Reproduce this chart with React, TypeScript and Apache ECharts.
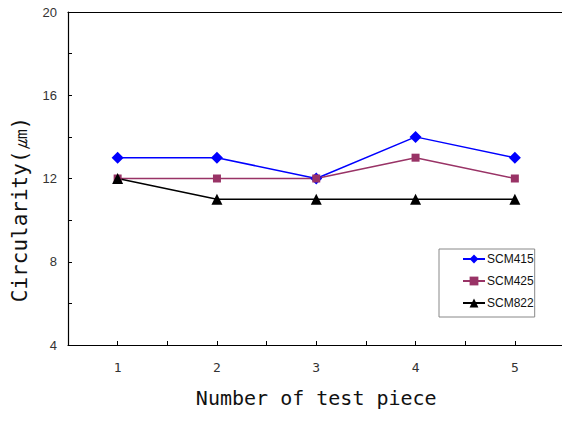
import React, { useEffect, useRef } from "react";
import * as echarts from "echarts";

const categories = [1, 2, 3, 4, 5];
const scm415 = [13, 13, 12, 14, 13];
const scm425 = [12, 12, 12, 13, 12];
const scm822 = [12, 11, 11, 11, 11];
const yTicks = { min: 4, max: 20, interval: 4 };

export default function App() {
  const ref = useRef<HTMLDivElement>(null);
  useEffect(() => {
    if (!ref.current) return;
    const chart = echarts.init(ref.current, undefined, { renderer: "svg" });
    const mk = (vals: number[]) => vals.map((v, i) => [categories[i], v]);
    const axisLabelStyle = { color: "#333", fontSize: 13, fontFamily: "Liberation Sans" };
    chart.setOption({
      animation: false,
      backgroundColor: "#fff",
      grid: { left: 68, top: 12, bottom: 76, right: -2.5, outerBoundsMode: "none", containLabel: false },
      legend: {
        orient: "vertical",
        left: 439,
        top: 249,
        padding: [4, 1, 8, 23],
        itemGap: 10,
        itemWidth: 22,
        itemHeight: 11,
        borderColor: "#888",
        borderWidth: 1,
        backgroundColor: "#fff",
        textStyle: { fontSize: 12, color: "#111", fontFamily: "Liberation Sans", padding: [0, 0, 0, -3] },
        data: ["SCM415", "SCM425", "SCM822"],
      },
      xAxis: [
        {
          type: "value",
          min: 0.5,
          max: 5.5,
          interval: 0.5,
          name: "Number of test piece",
          nameLocation: "middle",
          nameGap: 43,
          nameTextStyle: { fontSize: 20, color: "#111", fontFamily: "DejaVu Sans Mono" },
          axisLine: { lineStyle: { color: "#000", width: 1.2 } },
          axisTick: { inside: true, length: 4, lineStyle: { color: "#000" } },
          axisLabel: {
            ...axisLabelStyle,
            margin: 16,
            fontFamily: "DejaVu Sans Mono",
            formatter: (v: number) => (Number.isInteger(v) ? String(v) : ""),
            showMinLabel: false,
            showMaxLabel: false,
          },
          splitLine: { show: false },
        },
        {
          type: "value",
          position: "top",
          min: 0.5,
          max: 5.5,
          axisLine: { show: true, lineStyle: { color: "#000", width: 1.2 } },
          axisTick: { show: false },
          axisLabel: { show: false },
          splitLine: { show: false },
        },
      ],
      yAxis: {
        type: "value",
        min: yTicks.min,
        max: yTicks.max,
        interval: yTicks.interval,
        name: "Circularity(㎛)",
        nameLocation: "middle",
        nameGap: 38,
        nameTextStyle: { fontSize: 21, color: "#111", fontFamily: "DejaVu Sans Mono", padding: [0, 62, 0, 0] },
        axisLine: { show: true, lineStyle: { color: "#000", width: 1.2 } },
        axisTick: { inside: true, length: 4, lineStyle: { color: "#000" } },
        minorTick: { show: true, splitNumber: 2, length: 4, lineStyle: { color: "#000" } },
        axisLabel: { ...axisLabelStyle, margin: 11 },
        splitLine: { show: false },
      },
      series: [
        {
          name: "SCM415",
          type: "line",
          data: mk(scm415),
          symbol: "diamond",
          symbolSize: 12,
          itemStyle: { color: "#0000ff" },
          lineStyle: { color: "#0000ff", width: 1.5 },
        },
        {
          name: "SCM425",
          type: "line",
          data: mk(scm425),
          symbol: "rect",
          symbolSize: 8,
          itemStyle: { color: "#993366" },
          lineStyle: { color: "#993366", width: 1.5 },
        },
        {
          name: "SCM822",
          type: "line",
          data: mk(scm822),
          symbol: "triangle",
          symbolSize: 11,
          itemStyle: { color: "#000" },
          lineStyle: { color: "#000", width: 1.5 },
        },
      ],
    });
    return () => chart.dispose();
  }, []);
  return <div ref={ref} style={{ width: 562, height: 421, position: "absolute", left: 0, top: 0 }} />;
}
